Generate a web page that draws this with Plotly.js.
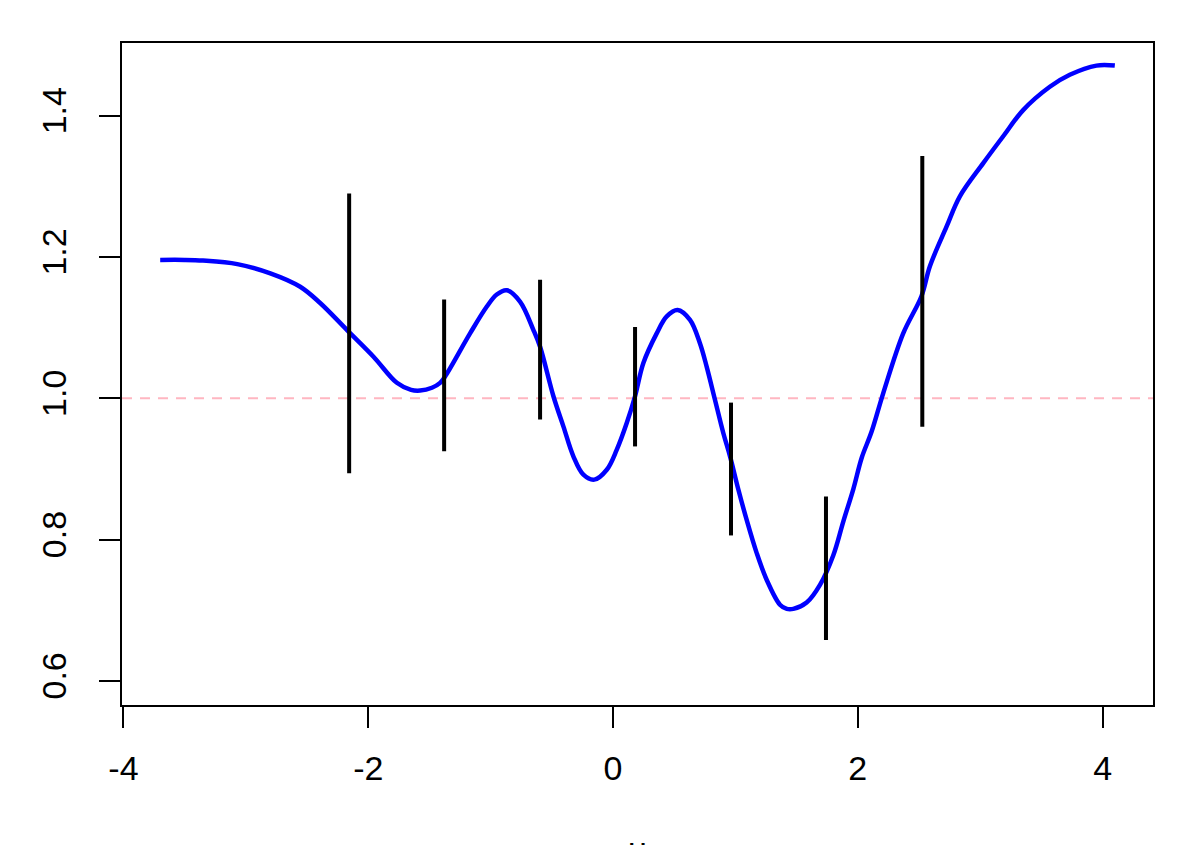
<!DOCTYPE html>
<html>
<head>
<meta charset="utf-8">
<script src="https://cdn.plot.ly/plotly-3.0.1.min.js"></script>
<style>html,body{margin:0;padding:0;background:#fff;}#chart{width:1196px;height:845px;}</style>
</head>
<body>
<div id="chart"></div>
<script>
// Smoothed curve (blue)
var curveX = [-3.70,-3.50,-3.35,-3.07,-2.80,-2.556,-2.393,-2.175,-1.957,-1.766,-1.65,-1.576,-1.48,-1.413,-1.372,-1.168,-1.031,-0.95,-0.868,-0.76,-0.651,-0.596,-0.487,-0.405,-0.324,-0.242,-0.153,-0.051,0.030,0.112,0.180,0.248,0.357,0.439,0.528,0.629,0.710,0.765,0.833,0.901,0.956,1.024,1.092,1.174,1.256,1.364,1.42,1.473,1.582,1.691,1.80,1.882,1.964,2.032,2.113,2.208,2.371,2.521,2.589,2.725,2.834,3.025,3.188,3.351,3.569,3.732,3.95,4.10];
var curveY = [1.196,1.196,1.195,1.190,1.177,1.158,1.135,1.097,1.059,1.022,1.012,1.011,1.015,1.022,1.031,1.092,1.130,1.147,1.153,1.137,1.097,1.073,1.003,0.960,0.918,0.892,0.885,0.899,0.927,0.965,1.003,1.050,1.092,1.116,1.125,1.111,1.078,1.045,0.998,0.951,0.918,0.871,0.828,0.781,0.743,0.708,0.702,0.702,0.711,0.736,0.778,0.826,0.872,0.916,0.953,1.0075,1.092,1.145,1.187,1.243,1.286,1.333,1.371,1.408,1.441,1.458,1.471,1.471];

// Vertical interval bars (black)
var barX    = [-2.156, -1.380, -0.596, 0.180, 0.964, 1.740, 2.527];
var barLow  = [0.894, 0.925, 0.970, 0.932, 0.806, 0.658, 0.960];
var barHigh = [1.290, 1.140, 1.168, 1.101, 0.994, 0.861, 1.343];

// Reference line
var refY = 1.0;

// Axis ticks
var xTicks = [-4, -2, 0, 2, 4];
var yTicks = [0.6, 0.8, 1.0, 1.2, 1.4];
var yTickText = ["0.6", "0.8", "1.0", "1.2", "1.4"];
var xLabel = "u";

var xRange = [-4.012, 4.412];
var yRange = [0.566, 1.503];

var segX = [], segY = [];
for (var i = 0; i < barX.length; i++) {
  segX.push(barX[i], barX[i], null);
  segY.push(barLow[i], barHigh[i], null);
}

var traces = [
  {x: [xRange[0], xRange[1]], y: [refY, refY], mode: 'lines', type: 'scatter',
   line: {color: '#FFB6C1', width: 2, dash: '10px,8px'}, hoverinfo: 'skip'},
  {x: curveX, y: curveY, mode: 'lines', type: 'scatter',
   line: {color: '#0000FF', width: 4.5, shape: 'spline', smoothing: 1}},
  {x: segX, y: segY, mode: 'lines', type: 'scatter',
   line: {color: '#000000', width: 4}}
];

var tickFont = {family: 'Liberation Sans, Arial, sans-serif', size: 34, color: '#000'};

var layout = {
  width: 1196, height: 845,
  margin: {l: 122, r: 43, t: 43, b: 140, pad: 0},
  paper_bgcolor: '#fff', plot_bgcolor: '#fff',
  showlegend: false,
  xaxis: {
    range: xRange, tickvals: xTicks, ticktext: xTicks.map(String),
    showgrid: false, zeroline: false,
    showline: true, mirror: true, linecolor: '#000', linewidth: 2,
    ticks: 'outside', ticklen: 21, tickwidth: 2, tickcolor: '#000',
    tickfont: tickFont, ticklabelstandoff: 11
  },
  yaxis: {
    range: yRange, tickvals: yTicks, ticktext: yTickText,
    showgrid: false, zeroline: false,
    showline: true, mirror: true, linecolor: '#000', linewidth: 2,
    ticks: 'outside', ticklen: 21, tickwidth: 2, tickcolor: '#000',
    tickfont: tickFont, tickangle: -90, ticklabelstandoff: 19
  },
  annotations: [{
    text: xLabel, xref: 'paper', yref: 'paper', x: 0.5, y: -0.186,
    xanchor: 'center', yanchor: 'top', showarrow: false,
    font: {family: 'Liberation Sans, Arial, sans-serif', size: 34, color: '#000'}
  }]
};

Plotly.newPlot('chart', traces, layout, {displayModeBar: false, staticPlot: true});
</script>
</body>
</html>
